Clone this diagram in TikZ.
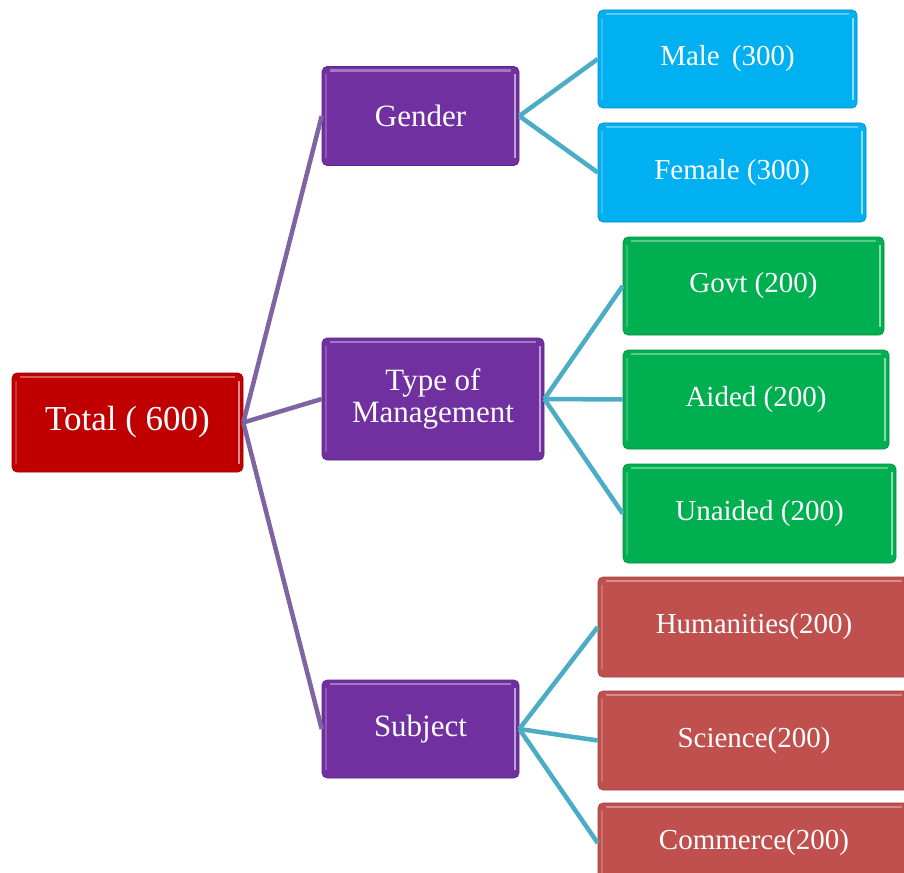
\documentclass[tikz,border=0pt]{standalone}
\usepackage{fontspec}
\setmainfont{Liberation Serif}
\definecolor{cTotal}{HTML}{C00000}
\definecolor{cPurple}{HTML}{7030A0}
\definecolor{cCyan}{HTML}{00B0F0}
\definecolor{cGreen}{HTML}{00B050}
\definecolor{cRed}{HTML}{C0504D}
\definecolor{lPurple}{HTML}{8064A2}
\definecolor{lTeal}{HTML}{4BACC6}
\tikzset{
  box/.style={rectangle, rounded corners=5pt, text=white, align=center, inner sep=0pt,
    draw=#1!80!black, line width=0.6pt, fill=#1,
    path picture={
      \draw[white, opacity=0.35, line width=2.5pt]
        ([xshift=8pt,yshift=-4pt]path picture bounding box.north west) --
        ([xshift=-8pt,yshift=-4pt]path picture bounding box.north east);
      \draw[white, opacity=0.55, line width=1.6pt]
        ([xshift=-4pt,yshift=-8pt]path picture bounding box.north east) --
        ([xshift=-4pt,yshift=8pt]path picture bounding box.south east);
      \draw[white, opacity=0.2, line width=1.6pt]
        ([xshift=4pt,yshift=-8pt]path picture bounding box.north west) --
        ([xshift=4pt,yshift=8pt]path picture bounding box.south west);
    }},
  rootfont/.style={font=\fontsize{35}{38}\selectfont},
  midfont/.style={font=\fontsize{31}{32}\selectfont},
  leaffont/.style={font=\fontsize{29}{30}\selectfont},
  purpleline/.style={draw=lPurple, line width=4.5pt},
  tealline/.style={draw=lTeal, line width=4.5pt},
}
\begin{document}
\begin{tikzpicture}[x=1pt, y=-1pt]
\useasboundingbox (0,0) rectangle (904,872);
% root
\node[box=cTotal, rootfont, minimum width=231pt, minimum height=99pt] (total) at (127.5,422.5) {Total ( 600)};
% mid level
\node[box=cPurple, midfont, minimum width=197pt, minimum height=99pt] (gender) at (420.5,116) {Gender};
\node[box=cPurple, midfont, minimum width=222pt, minimum height=122pt] (mgmt) at (433,399) {Type of\\Management};
\node[box=cPurple, midfont, minimum width=197pt, minimum height=98pt] (subject) at (420.5,729) {Subject};
% leaves
\node[box=cCyan, leaffont, minimum width=259pt, minimum height=98pt] (male) at (727.5,59) {Male\, (300)};
\node[box=cCyan, leaffont, minimum width=268pt, minimum height=99pt] (female) at (732,172.5) {Female (300)};
\node[box=cGreen, leaffont, minimum width=261pt, minimum height=98pt] (govt) at (753.5,286) {Govt (200)};
\node[box=cGreen, leaffont, minimum width=266pt, minimum height=99pt] (aided) at (756,399.5) {Aided (200)};
\node[box=cGreen, leaffont, minimum width=273pt, minimum height=99pt] (unaided) at (759.5,513.5) {Unaided (200)};
\node[box=cRed, leaffont, minimum width=312pt, minimum height=100pt] (hum) at (754,627) {};
\node[leaffont, text=white] (humt) at (754,627) {Humanities(200)};
\node[box=cRed, leaffont, minimum width=312pt, minimum height=99pt] (sci) at (754,740.5) {};
\node[leaffont, text=white] (scit) at (754,740.5) {Science(200)};
\node[box=cRed, leaffont, minimum width=312pt, minimum height=80pt] (com) at (754,843) {};
\node[leaffont, text=white] (comt) at (754,843) {Commerce(200)};
% connectors
\draw[purpleline] (total.east) -- (gender.west);
\draw[purpleline] (total.east) -- (mgmt.west);
\draw[purpleline] (total.east) -- (subject.west);
\draw[tealline] (gender.east) -- (male.west);
\draw[tealline] (gender.east) -- (female.west);
\draw[tealline] (mgmt.east) -- (govt.west);
\draw[tealline] (mgmt.east) -- (aided.west);
\draw[tealline] (mgmt.east) -- (unaided.west);
\draw[tealline] (subject.east) -- (hum.west);
\draw[tealline] (subject.east) -- (sci.west);
\draw[tealline] (subject.east) -- (com.west);
\end{tikzpicture}
\end{document}
